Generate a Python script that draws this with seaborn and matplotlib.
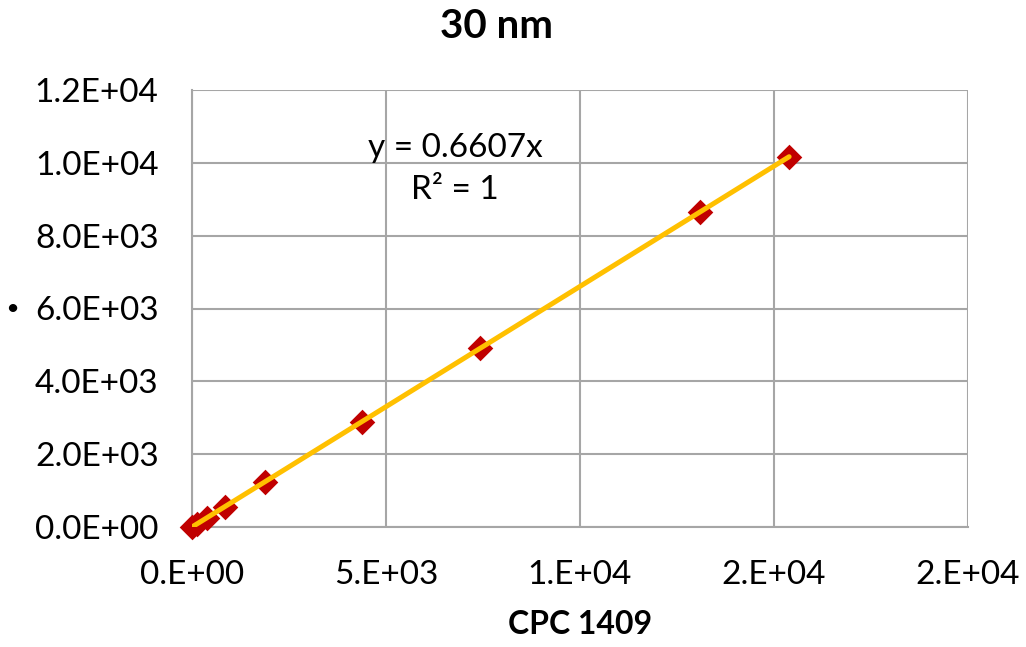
import matplotlib
matplotlib.use("Agg")
import matplotlib.pyplot as plt
import seaborn as sns
import pandas as pd
import numpy as np

# Data
cpc_1409 = [0, 130, 380, 850, 1880, 4380, 7420, 13090, 15390]
instrument = [0, 86, 251, 562, 1242, 2894, 4903, 8649, 10168]
slope = 0.6607

x_ticks = [0, 5000, 10000, 15000, 20000]
x_tick_labels = ["0.E+00", "5.E+03", "1.E+04", "2.E+04", "2.E+04"]
y_ticks = [0, 2000, 4000, 6000, 8000, 10000, 12000]
y_tick_labels = ["0.0E+00", "2.0E+03", "4.0E+03", "6.0E+03", "8.0E+03", "1.0E+04", "1.2E+04"]

df = pd.DataFrame({"x": cpc_1409, "y": instrument})
trend_x = [0, max(cpc_1409)]
trend = pd.DataFrame({"x": trend_x, "y": [slope * v for v in trend_x]})

sns.set_theme(style="white")
plt.rcParams["font.family"] = ["Lato", "DejaVu Sans"]
plt.rcParams["text.color"] = "black"
plt.rcParams["axes.labelcolor"] = "black"

fig = plt.figure(figsize=(10.26, 6.47), dpi=100)
ax = fig.add_axes([192/1026, 1 - 527/647, (968-192)/1026, (527-90)/647])

sns.scatterplot(data=df, x="x", y="y", marker="D", s=170, color="#C00000",
                edgecolor="#C00000", linewidth=0, ax=ax, zorder=3, clip_on=False)
sns.lineplot(data=trend, x="x", y="y", color="#FFC000", linewidth=3.6, ax=ax, zorder=4)

ax.set_xlim(0, 20000)
ax.set_ylim(0, 12000)
ax.set_xticks(x_ticks)
ax.set_xticklabels(x_tick_labels)
ax.set_yticks(y_ticks)
ax.set_yticklabels(y_tick_labels)
ax.tick_params(axis="both", labelsize=24, length=0, pad=24, colors="black")
ax.grid(True, color="#A6A6A6", linewidth=1.5)
for side in ["top", "right"]:
    ax.spines[side].set_visible(False)
for side in ["left", "bottom"]:
    ax.spines[side].set_color("#A6A6A6")
    ax.spines[side].set_linewidth(1.5)

ax.set_xlabel("CPC 1409", fontsize=23, fontweight="bold", labelpad=14, color="black")
ax.set_ylabel("·", fontsize=32, rotation=0, fontweight="bold", color="black")
ax.yaxis.set_label_coords(-0.232, 0.455)

ax.text(6780, 10400, "y = 0.6607x", fontsize=24, ha="center", va="center", color="black")
ax.text(6780, 9250, "R² = 1", fontsize=24, ha="center", va="center", color="black")

fig.text(497/1026, 1 - 27/647, "30 nm", fontsize=29, fontweight="bold",
         ha="center", va="center", color="black")

fig.savefig("out.png", dpi=100)
